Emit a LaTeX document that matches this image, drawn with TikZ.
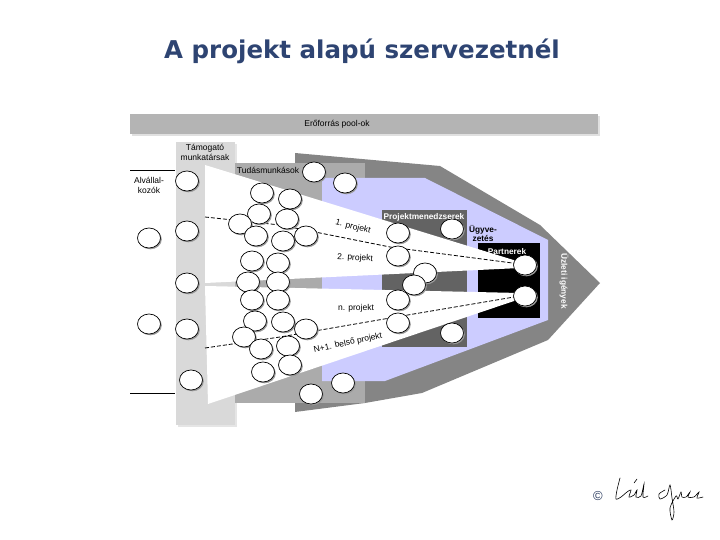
\documentclass[tikz,border=0pt]{standalone}
\usepackage{fontspec}
\setmainfont{Liberation Sans}
\newfontfamily\titlefont{DejaVu Sans}
\usepackage{xcolor}
\definecolor{patitle}{HTML}{2E4472}
\definecolor{pabar}{HTML}{B4B4B4}
\definecolor{pacol}{HTML}{D9D9D9}
\definecolor{pamid}{HTML}{ABABAB}
\definecolor{pashell}{HTML}{858585}
\definecolor{palav}{HTML}{CCCCFF}
\definecolor{pabox}{HTML}{636363}
\definecolor{pashadow}{HTML}{9A9A9A}

\tikzset{
  pers/.style={fill=white,draw=black,line width=0.7pt},
  lbl/.style={font=\fontsize{8.5}{10}\selectfont,inner sep=0pt},
  wlbl/.style={inner sep=0pt,text=white,font=\fontsize{8.3}{10}\selectfont\bfseries},
  projline/.style={draw=black,line width=0.8pt,dash pattern=on 4pt off 2pt}
}

\begin{document}
\begin{tikzpicture}[x=1pt,y=-1pt]
  \useasboundingbox (0,0) rectangle (720,540);
  % title
  \node[font=\titlefont\bfseries\fontsize{24.5}{28}\selectfont,text=patitle] (title) at (362,51) {A projekt alapú szervezetnél};

  % resource pools bar
  \fill[black!12] (132,116) rectangle (600,136);
  \fill[pabar] (130,114) rectangle (598,134);
  \node[lbl] (pool) at (337,124) {Erőforrás pool-ok};

  % support column, shell, bands
  \fill[black!10] (178,144) rectangle (237,427);
  \fill[pacol] (176,142) rectangle (235,425);
  \fill[pashell] (295,153) -- (440,166) -- (540,225) -- (600,283) -- (548,340) -- (422,393) -- (365,403) -- (295,412) -- cycle;
  \fill[pamid] (235,163) rectangle (365,403);
  \fill[palav] (322,178) -- (425,178) -- (548,240) -- (548,320) -- (385,381) -- (322,381) -- cycle;
  \fill[pabox] (382,210) rectangle (467,347);
  \fill[black] (478,243) rectangle (540,318);

  % project beams
  \fill[white] (205,165) -- (520,262) -- (520,268) -- (205,283) -- cycle;
  \fill[white] (205,286) -- (520,293) -- (520,299) -- (208,404) -- cycle;
  \draw[projline] (205,217) -- (280,225) -- (390,247) -- (520,264);
  \draw[projline] (205,348) -- (280,337) -- (390,318) -- (520,296);

  % subcontractor lines
  \draw[line width=1pt] (130,171) -- (175,171);
  \draw[line width=1pt] (130,393) -- (175,393);

  % people
  \foreach \px/\py in {314/172,345/183,311/394,343/383,
      187/181,187/231,187/283,187/329,191/380,149/238,149/324,
      262/193,290/199,259/214,287/219,240/224,256/236,283/241,306/236,
      252/261,278/263,248/282,278/282,252/300,278/300,
      255/321,283/322,306/329,244/337,261/349,288/346,263/372,290/365,
      398/233,398/256,425/273,414/285,398/300,398/323,452/229,452/333,
      525/265,525/296}{
    \fill[pashadow] (\px+1.3,\py+1.3) ellipse [x radius=11.5, y radius=10];
    \draw[pers] (\px,\py) ellipse [x radius=11.5, y radius=10];
  }

  % labels
  \node[lbl,align=center] (supp) at (205,152) {Támogató\\munkatársak};
  \node[lbl] (know) at (268,170) {Tudásmunkások};
  \node[lbl,align=center] (subc) at (149,185) {Alvállal-\\kozók};
  \node[wlbl] (pm) at (424,217) {Projektmenedzserek};
  \node[lbl,align=center,font=\fontsize{8.3}{9}\selectfont\bfseries] (mgmt) at (483,233) {Ügyve-\\zetés};
  \node[wlbl] (partn) at (507,252) {Partnerek};
  \node[wlbl,rotate=-90] (need) at (564,281) {Üzleti igények};
  \node[lbl,rotate=-14] (p1) at (353,227) {1. projekt};
  \node[lbl,rotate=-3] (p2) at (355,258) {2. projekt};
  \node[lbl] (pn) at (356,308) {n. projekt};
  \node[lbl,rotate=12] (pn1) at (348,343) {N+1. belső projekt};

  % signature
  \node[font=\fontsize{13}{15}\selectfont,text=patitle!80!black] (copy) at (598,496) {©};
  \draw[line width=0.6pt,line cap=round] plot[smooth] coordinates {(620,478) (617,490) (616,499) (621,497) (627,492) (631,490) (629,497) (634,495) (637,490) (636,497) (641,496) (644,484) (643,497) (648,496)};
  \draw[line width=0.6pt,line cap=round] (634,483) -- (637,479);
  \draw[line width=0.6pt,line cap=round] plot[smooth] coordinates {(665,490) (659,494) (660,499) (667,495) (670,485) (672,498) (674,512) (672,520) (670,508) (676,496) (678,499) (681,492) (682,497) (686,497) (690,492) (688,497) (694,497) (699,492) (697,498) (703,497)};
\end{tikzpicture}
\end{document}
